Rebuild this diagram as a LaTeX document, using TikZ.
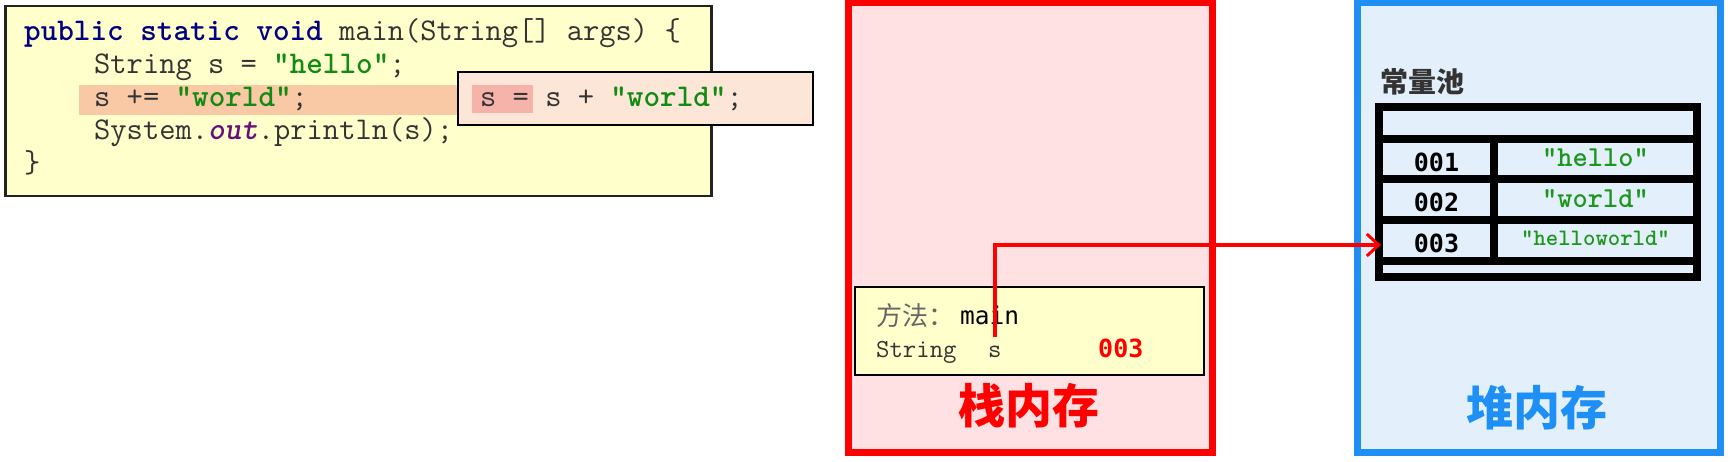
\documentclass[tikz,border=0pt]{standalone}
\usepackage{fontspec}
\newfontfamily\cjk{Noto Sans CJK SC}
\newfontfamily\dvm{DejaVu Sans Mono}
\usetikzlibrary{arrows.meta}
\definecolor{codefill}{HTML}{FFFFCC}
\definecolor{codeborder}{HTML}{222222}
\definecolor{codegray}{HTML}{333333}
\definecolor{hlorange}{HTML}{F9C9A6}
\definecolor{popfill}{HTML}{FBE6D8}
\definecolor{pophl}{HTML}{F6B3AA}
\definecolor{kw}{HTML}{000080}
\definecolor{strgreen}{HTML}{138A13}
\definecolor{outpurple}{HTML}{660E7A}
\definecolor{stackred}{HTML}{FF0000}
\definecolor{stackfill}{HTML}{FFE1E4}
\definecolor{heapblue}{HTML}{1E8FF5}
\definecolor{heapfill}{HTML}{E3F0FC}
\definecolor{tblgreen}{HTML}{1E961E}
\begin{document}
\begin{tikzpicture}[x=1pt,y=-1pt,
  box/.style={anchor=north west, inner sep=0, outer sep=0},
  codeline/.style={anchor=base west, inner sep=0, text=codegray,
    font=\ttfamily\fontsize{31.6}{33}\selectfont},
  framefont/.style={anchor=base west, inner sep=0},
  cellnum/.style={inner sep=0, font=\dvm\bfseries\fontsize{25}{25}\selectfont, text=black},
  cellstr/.style={inner sep=0, font=\ttfamily\bfseries\fontsize{29}{29}\selectfont, text=tblgreen},
  title/.style={inner sep=0, font=\cjk\bfseries\fontsize{47}{47}\selectfont},
  redline/.style={draw=stackred, line width=4pt},
  gridline/.style={draw=black, line width=8pt}
]
\useasboundingbox[fill=white] (0,0) rectangle (1730,462);

% ---------- code box ----------
\node[box, draw=codeborder, line width=2.5pt, fill=codefill, minimum width=706pt, minimum height=190pt] (codebox) at (5.5,6) {};
\node[box, fill=hlorange, minimum width=384pt, minimum height=30pt] (hl) at (79,85) {};
\node[codeline] (l1) at (24,41) {\textcolor{kw}{\bfseries public static void} main(String[] args) \{};
\node[codeline] (l2) at (94,74) {String s = \textcolor{strgreen}{\bfseries "hello"};};
\node[codeline] (l3) at (94,107) {s += \textcolor{strgreen}{\bfseries "world"};};
\node[codeline] (l4) at (94,140) {System.\textcolor{outpurple}{\bfseries\itshape out}.println(s);};
\node[codeline] (l5) at (24,173) {\}};

% ---------- popup ----------
\node[box, draw=black, line width=2.5pt, fill=popfill, minimum width=355pt, minimum height=53pt] (pop) at (458,72) {};
\node[box, fill=pophl, minimum width=61pt, minimum height=28pt] (pophl) at (472,85) {};
\node[codeline] (popt) at (480,107) {s = s + \textcolor{strgreen}{\bfseries "world"};};

% ---------- stack ----------
\node[box, draw=stackred, line width=7pt, fill=stackfill, minimum width=364pt, minimum height=449pt] (stack) at (848,3) {};
\node[box, draw=black, line width=2.5pt, fill=codefill, minimum width=349pt, minimum height=88pt] (frame) at (855,287) {};
\node[framefont, font=\cjk\fontsize{26}{26}\selectfont, text=black!60] (fl) at (876,326) {方法：};
\node[framefont, font=\dvm\fontsize{24.5}{25}\selectfont, text=black] (fmain) at (960,325) {main};
\node[framefont, font=\ttfamily\fontsize{26}{26}\selectfont, text=codegray] (ftype) at (876,357) {String};
\node[framefont, font=\ttfamily\fontsize{26}{26}\selectfont, text=codegray] (svar) at (988,357) {s};
\node[framefont, font=\dvm\bfseries\fontsize{25}{25}\selectfont, text=stackred] (sval) at (1098,357) {003};
\node[title, text=stackred] (stitle) at (1029,406) {栈内存};

% ---------- heap ----------
\node[box, draw=heapblue, line width=7pt, fill=heapfill, minimum width=363pt, minimum height=449pt] (heap) at (1357,3) {};
\node[inner sep=0, font=\cjk\bfseries\fontsize{28}{28}\selectfont, text=black!80] (pool) at (1422,82) {常量池};
\node[box, draw=black, line width=8pt, minimum width=318pt, minimum height=169.5pt] (table) at (1379,107.5) {};
\draw[gridline] (table.west |- 0,139) -- (table.east |- 0,139);
\draw[gridline] (table.west |- 0,179) -- (table.east |- 0,179);
\draw[gridline] (table.west |- 0,220) -- (table.east |- 0,220);
\draw[gridline] (table.west |- 0,261) -- (table.east |- 0,261);
\draw[gridline] (1494,139) -- (1494,261);
\node[cellnum] (n1) at (1436.5,162) {001};
\node[cellnum] (n2) at (1436.5,202) {002};
\node[cellnum] (n3) at (1436.5,243) {003};
\node[cellstr] (v1) at (1595.5,158) {"hello"};
\node[cellstr] (v2) at (1595.5,199) {"world"};
\node[cellstr, font=\ttfamily\bfseries\fontsize{23.6}{24}\selectfont] (v3) at (1595.5,238) {"helloworld"};
\node[title, text=heapblue] (htitle) at (1537,408) {堆内存};

% ---------- reference arrow ----------
\coordinate (c3in) at (1381,245);
\draw[redline, -{Straight Barb[length=12pt,width=22pt,line width=3pt]}] ([yshift=8pt]svar.north) |- (c3in);
\end{tikzpicture}
\end{document}
